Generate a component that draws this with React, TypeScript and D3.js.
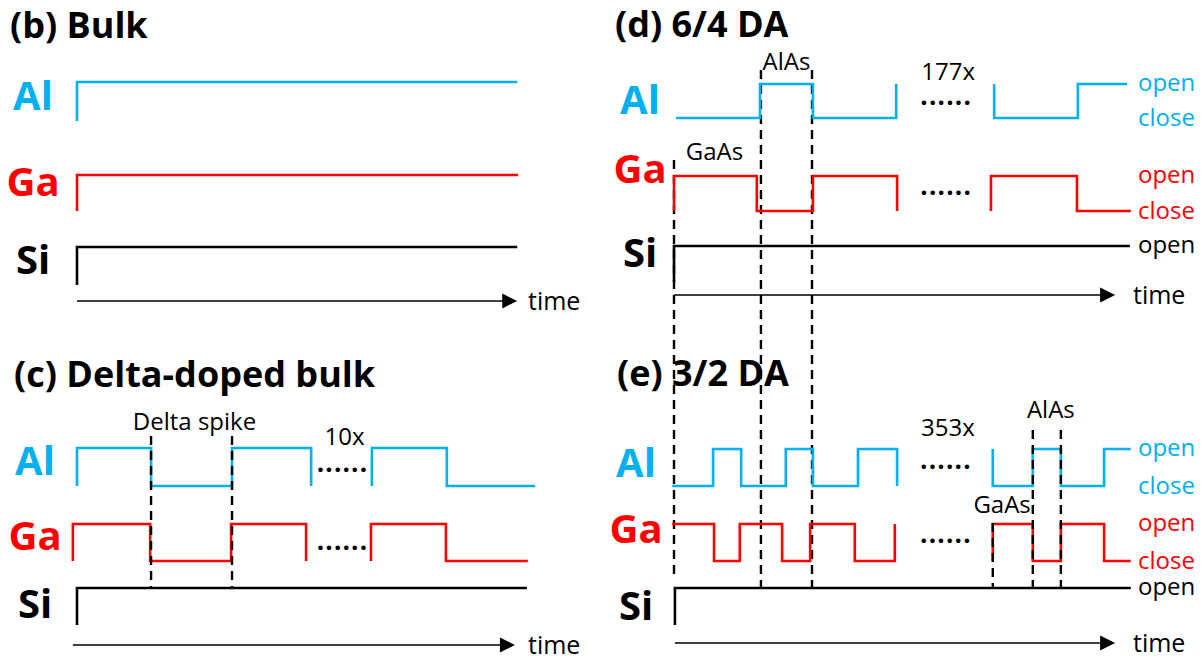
import { useEffect, useRef } from 'react'
import * as d3 from 'd3'

const W = 1203
const H = 660
const CYAN = '#00B0F0'
const RED = '#FF0000'
const FONT = '"Open Sans", sans-serif'

// shutter state sequences: [time, state], state 1 = open, 0 = close
// time in arbitrary units, 0..100 across a panel
const BULK_AL = [[0, 0], [0, 1], [95.7, 1]]
const BULK_GA = [[0, 0], [0, 1], [95.9, 1]]
const BULK_SI = [[0, 0], [0, 1], [95.7, 1]]

const DELTA_AL = [
  [[0, 0], [0, 1], [16.1, 0], [33.7, 1], [50.9, 0]],
  [[64.1, 0], [64.1, 1], [80.4, 0], [99.6, 0]],
]
const DELTA_GA = [
  [[-0.9, 0], [-0.9, 1], [15.9, 0], [33.5, 1], [49.8, 0]],
  [[63.9, 0], [63.9, 1], [80.2, 0], [98, 0]],
]
const DELTA_SI = [[0, 0], [0, 1], [97.8, 1]]
const DELTA_MARKS = [16.1, 33.7]

const DA64_AL = [
  [[0.4, 0], [18.7, 1], [30.2, 0], [48.3, 1]],
  [[69.6, 1], [69.6, 0], [87.8, 1], [98.5, 1]],
]
const DA64_GA = [
  [[0, 0], [0, 1], [18.0, 0], [30.2, 1], [48.5, 0]],
  [[68.9, 0], [68.9, 1], [87.6, 0], [99.3, 0]],
]
const DA64_SI = [[0, 0], [0, 1], [99.1, 1]]
const DA64_MARKS = [0, 18.9, 30.0]

const DA32_AL = [
  [[-0.4, 0], [8.5, 1], [14.6, 0], [24.3, 1], [30.2, 0], [40.0, 1], [48.5, 0]],
  [[69.3, 1], [69.3, 0], [78.0, 1], [84.1, 0], [93.5, 1], [99.3, 1]],
]
const DA32_GA = [
  [[-0.4, 1], [8.7, 0], [14.3, 1], [23.5, 0], [29.6, 1], [39.3, 0], [48.0, 1]],
  [[69.3, 0], [69.3, 1], [78.0, 0], [84.1, 1], [93.5, 0], [99.3, 0]],
]
const DA32_SI = [[0.2, 0], [0.2, 1], [99.3, 1]]
const DA32_MARKS = [69.3, 78.0, 84.1]

const TIME_SPANS = [[0, 95.7], [-0.9, 95.2], [0, 95.9], [0.2, 95.9]]
const REPEATS = ['10x', '177x', '353x']

const LEFT = [77, 537]
const RIGHT = [674, 1134]

function rows(al, ga, si, layout) {
  return [
    { label: 'Al', color: CYAN, segs: al, ...layout[0] },
    { label: 'Ga', color: RED, segs: ga, ...layout[1] },
    { label: 'Si', color: '#000', segs: [si], ...layout[2] },
  ]
}

const PANELS = [
  {
    title: '(b) Bulk', tx: 10, ty: 38, range: LEFT, labelX: 33, time: TIME_SPANS[0], timeY: 301,
    rows: rows([BULK_AL], [BULK_GA], BULK_SI, [
      { open: 82, close: 121, ly: 110 }, { open: 175, close: 211, ly: 196 }, { open: 247, close: 285, ly: 274 },
    ]),
  },
  {
    title: '(c) Delta-doped bulk', tx: 14, ty: 387, range: LEFT, labelX: 35, time: TIME_SPANS[1], timeY: 645,
    rows: rows(DELTA_AL, DELTA_GA, DELTA_SI, [
      { open: 448, close: 486, ly: 475 }, { open: 524, close: 561, ly: 550 }, { open: 588, close: 625, ly: 618 },
    ]),
    repeat: REPEATS[0], repeatY: 445, dotsY: [472, 550],
  },
  {
    title: '(d) 6/4 DA', tx: 615, ty: 37, range: RIGHT, labelX: 640, time: TIME_SPANS[2], timeY: 295,
    rows: rows(DA64_AL, DA64_GA, DA64_SI, [
      { open: 84, close: 118, ly: 114 }, { open: 176, close: 211, ly: 183 }, { open: 246, close: 282, ly: 267 },
    ]),
    repeat: REPEATS[1], repeatY: 80, dotsY: [105, 195], states: true,
  },
  {
    title: '(e) 3/2 DA', tx: 617, ty: 386, range: RIGHT, labelX: 636, time: TIME_SPANS[3], timeY: 643,
    rows: rows(DA32_AL, DA32_GA, DA32_SI, [
      { open: 449, close: 486, ly: 477 }, { open: 524, close: 561, ly: 543 }, { open: 588, close: 625, ly: 620 },
    ]),
    repeat: REPEATS[2], repeatY: 436, dotsY: [469, 543], states: true,
  },
]

export default function App() {
  const svgRef = useRef(null)

  useEffect(() => {
    const svg = d3.select(svgRef.current)
    svg.selectAll('*').remove()

    const dashed = (x, y1, y2) => svg.append('line')
      .attr('x1', x).attr('x2', x).attr('y1', y1).attr('y2', y2)
      .attr('stroke', '#000').attr('stroke-width', 2.4).attr('stroke-dasharray', '9 6')

    const label = (text, x, y, opts = {}) => svg.append('text')
      .attr('x', x).attr('y', y)
      .attr('font-family', FONT)
      .attr('font-size', opts.size ?? 24)
      .attr('font-weight', opts.weight ?? 400)
      .attr('fill', opts.fill ?? '#000')
      .attr('text-anchor', opts.anchor ?? 'start')
      .attr('letter-spacing', opts.spacing ?? null)
      .text(text)

    // long dashed guides spanning (d) and (e)
    const xr = d3.scaleLinear().domain([0, 100]).range(RIGHT)
    const guideTop = [160, 70, 70]
    const guideBot = [580, 588, 588]
    DA64_MARKS.forEach((t, i) => dashed(xr(t), guideTop[i], guideBot[i]))

    PANELS.forEach(p => {
      const x = d3.scaleLinear().domain([0, 100]).range(p.range)

      label(p.title, p.tx, p.ty, { size: 36, weight: 700 })

      p.rows.forEach(r => {
        const y = d3.scaleLinear().domain([0, 1]).range([r.close, r.open])
        const line = d3.line().x(d => x(d[0])).y(d => y(d[1])).curve(d3.curveStepAfter)
        r.segs.forEach(seg => {
          svg.append('path')
            .datum(seg)
            .attr('d', line)
            .attr('fill', 'none')
            .attr('stroke', r.color)
            .attr('stroke-width', 2.6)
        })
        label(r.label, p.labelX, r.ly, { size: 40, weight: 700, fill: r.color, anchor: 'middle' })

        if (p.states) {
          const sx = p.range[1] + 4
          label('open', sx, y(1) + 7, { fill: r.color, size: 24 })
          if (r.label !== 'Si') label('close', sx, y(0) + 8, { fill: r.color, size: 24 })
        }
      })

      // time arrow
      const ty = p.timeY
      const tip = x(p.time[1])
      svg.append('line')
        .attr('x1', x(p.time[0])).attr('x2', tip - 12).attr('y1', ty).attr('y2', ty)
        .attr('stroke', '#000').attr('stroke-width', 1.6)
      svg.append('path')
        .attr('d', `M${tip},${ty}L${tip - 15},${ty - 7.5}L${tip - 15},${ty + 7.5}Z`)
        .attr('fill', '#000')
      label('time', p.range === LEFT ? 528 : 1133, ty + 9, { size: 25 })

      // repeat gap: dots and count
      if (p.repeat) {
        const al = p.rows[0].segs
        const gapMid = x((al[0][al[0].length - 1][0] + al[1][0][0]) / 2)
        p.dotsY.forEach(dy => label('......', gapMid + 1, dy, { size: 26, weight: 700, anchor: 'middle', spacing: 1.2 }))
        label(p.repeat, gapMid + 3, p.repeatY, { size: 24, anchor: 'middle' })
      }
    })

    // (c) delta spike markers
    const xl = d3.scaleLinear().domain([0, 100]).range(LEFT)
    DELTA_MARKS.forEach(t => dashed(xl(t), 436, 588))
    label('Delta spike', (xl(DELTA_MARKS[0]) + xl(DELTA_MARKS[1])) / 2 + 3, 430, { anchor: 'middle' })

    // (d) layer labels
    label('AlAs', (xr(DA64_MARKS[1]) + xr(DA64_MARKS[2])) / 2, 70, { anchor: 'middle' })
    label('GaAs', (xr(DA64_MARKS[0]) + xr(DA64_MARKS[1])) / 2 - 3, 160, { anchor: 'middle' })

    // (e) markers and labels
    const eTop = [523, 430, 430]
    DA32_MARKS.forEach((t, i) => dashed(xr(t), eTop[i], 588))
    label('AlAs', (xr(DA32_MARKS[1]) + xr(DA32_MARKS[2])) / 2 + 4, 418, { anchor: 'middle' })
    label('GaAs', xr(DA32_MARKS[1]) - 2, 513, { anchor: 'end' })
  }, [])

  return (
    <svg
      ref={svgRef}
      width={W}
      height={H}
      style={{ position: 'absolute', left: 0, top: 0, background: '#fff' }}
    />
  )
}
